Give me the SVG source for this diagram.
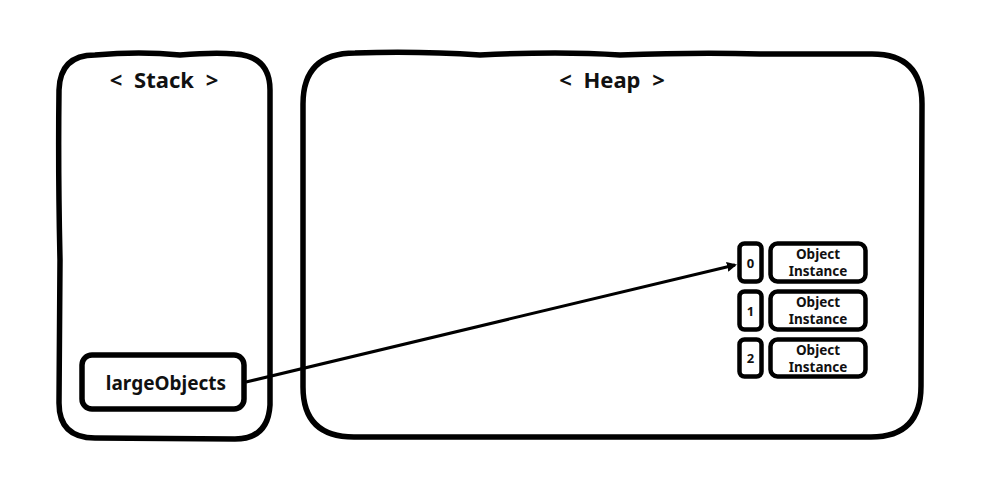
<svg xmlns="http://www.w3.org/2000/svg" width="1000" height="479" viewBox="0 0 1000 479">
<style>
.box{fill:#fff;stroke:#000;stroke-width:5.5;stroke-linejoin:round}
.cell{fill:#fff;stroke:#000;stroke-width:4.5}
.t{font-family:"Noto Sans","Liberation Sans",sans-serif;font-weight:bold;fill:#111;text-anchor:middle}
.title{font-size:22px;word-spacing:6px}
.conn{stroke:#000;stroke-width:3;fill:none}
</style>
<defs>
<marker id="ah" markerWidth="10" markerHeight="10" refX="8" refY="5" orient="auto" markerUnits="userSpaceOnUse" viewBox="0 0 10 10">
<path d="M0,0 L10,5 L0,10 z" fill="#000"/>
</marker>
</defs>
<rect width="1000" height="479" fill="#fff"/>
<g id="stack">
<path class="box" d="M95,55 Q140,51 180,55 Q215,52 235,54 Q270,56 270,90 L270,405 Q268,439 235,439 L95,438 Q59,438 59,403 L60,260 Q58,170 59,90 Q60,55 95,55 Z"/>
<text class="t title" x="164" y="88">&lt; Stack &gt;</text>
</g>
<g id="heap">
<path class="box" d="M355,53 Q420,51 480,55 Q560,51 620,55 Q700,52 760,54 L872,54 Q922,54 922,104 L921,386 Q921,437 871,437 L354,437 Q303,437 303,387 L303,104 Q303,53 355,53 Z"/>
<text class="t title" x="612" y="88">&lt; Heap &gt;</text>
</g>
<g id="largeObjects">
<rect class="box" x="82" y="355" width="162" height="54" rx="10"/>
<text class="t" x="166" y="390" font-size="19">largeObjects</text>
</g>
<g id="idx0">
<rect class="cell" x="739.5" y="243.5" width="22" height="38" rx="5"/>
<text class="t" x="750.5" y="268" font-size="13">0</text>
</g>
<g id="obj0">
<rect class="cell" x="770.5" y="243.5" width="95" height="38" rx="7"/>
<text class="t" x="818" y="259" font-size="13.5">Object</text>
<text class="t" x="818" y="276" font-size="13.5">Instance</text>
</g>
<g id="idx1">
<rect class="cell" x="739.5" y="291.5" width="22" height="38" rx="5"/>
<text class="t" x="750.5" y="316" font-size="13">1</text>
</g>
<g id="obj1">
<rect class="cell" x="770.5" y="291.5" width="95" height="38" rx="7"/>
<text class="t" x="818" y="307" font-size="13.5">Object</text>
<text class="t" x="818" y="324" font-size="13.5">Instance</text>
</g>
<g id="idx2">
<rect class="cell" x="739.5" y="339.5" width="22" height="37" rx="5"/>
<text class="t" x="750.5" y="363" font-size="13">2</text>
</g>
<g id="obj2">
<rect class="cell" x="770.5" y="339.5" width="95" height="37" rx="7"/>
<text class="t" x="818" y="355" font-size="13.5">Object</text>
<text class="t" x="818" y="372" font-size="13.5">Instance</text>
</g>
<g id="connectors">
<line class="conn" x1="246" y1="382" x2="735" y2="265" marker-end="url(#ah)"/>
</g>
</svg>
